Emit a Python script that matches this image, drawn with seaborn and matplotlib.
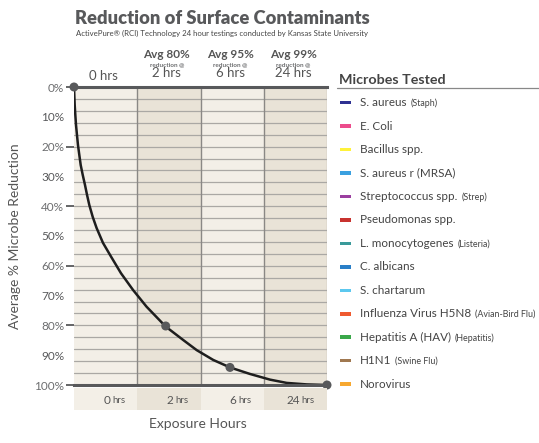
import numpy as np
import pandas as pd
import matplotlib
matplotlib.use("Agg")
import matplotlib.pyplot as plt
import seaborn as sns

# ---------------- data ----------------
columns = ["0 hrs", "2 hrs", "6 hrs", "24 hrs"]
col_numbers = ["0", "2", "6", "24"]
avg_headers = ["", "Avg 80%", "Avg 95%", "Avg 99%"]

# curve (x in column units 0..4, y in % reduction)
curve_x = [0.0, 0.005, 0.011, 0.021, 0.032, 0.047, 0.063, 0.084, 0.106,
           0.138, 0.174, 0.206, 0.242, 0.296, 0.357, 0.458, 0.585, 0.743,
           0.933, 1.146, 1.450, 1.739, 1.940, 2.202, 2.466, 2.783, 3.099,
           3.363, 3.679, 3.995]
curve_y = [0.0, 2.7, 6.0, 9.4, 12.8, 16.1, 19.5, 22.8, 26.2,
           29.5, 32.9, 36.2, 39.6, 43.6, 47.3, 52.3, 56.9, 62.5,
           68.1, 73.7, 80.4, 85.1, 88.3, 91.6, 94.1, 96.3, 98.2,
           99.3, 99.8, 100.0]

# measured points
marker_x = [0.0, 1.45, 2.466, 4.0]
marker_y = [0.0, 80.2, 94.1, 100.0]

ytick_values = [0, 10, 20, 30, 40, 50, 60, 70, 80, 90, 100]
ytick_labels = ["0%", "10%", "20%", "30%", "40%", "50%", "60%", "70%", "80%", "90%", "100%"]

microbes = ["S. aureus", "E. Coli", "Bacillus spp.", "S. aureus r (MRSA)",
            "Streptococcus spp.", "Pseudomonas spp.", "L. monocytogenes",
            "C. albicans", "S. chartarum", "Influenza Virus H5N8",
            "Hepatitis A (HAV)", "H1N1", "Norovirus"]
microbe_notes = ["(Staph)", "", "", "", "(Strep)", "", "(Listeria)", "", "",
                 "(Avian-Bird Flu)", "(Hepatitis)", "(Swine Flu)", ""]
microbe_colors = ["#2e3192", "#ec4c8c", "#fff23a", "#3aa0e0", "#9b3fa0",
                  "#c8332f", "#3a9a9a", "#2a7fc8", "#5cc8ef", "#ef5a30",
                  "#3aa84a", "#a07850", "#f7a830"]

# ---------------- style ----------------
sns.set_theme(style="white")
plt.rcParams["font.family"] = ["Lato", "DejaVu Sans"]

W, H = 539, 443
fig = plt.figure(figsize=(W / 100, H / 100), dpi=100)


def fx(px):
    return px / W


def fy(py):
    return 1 - py / H


TXT = "#555555"
LIGHT = "#f3efe7"
DARK = "#e9e3d7"
col_fill = [LIGHT, DARK, LIGHT, DARK]

ax = fig.add_axes([fx(74), fy(385), (327 - 74) / W, (385 - 87) / H])
ax.set_xlim(0, 4)
ax.set_ylim(100, 0)

for i in range(4):
    ax.axvspan(i, i + 1, color=col_fill[i], lw=0, zorder=0)
for yv in np.arange(4, 100, 4):
    ax.axhline(yv, color="#aaa8a4", lw=0.9, zorder=1)
for xv in [1, 2, 3]:
    ax.axvline(xv, color="#8a8885", lw=1.0, zorder=1)
ax.axvline(4, color="#aaa8a4", lw=0.9, zorder=1)

df_curve = pd.DataFrame({"x": curve_x, "y": curve_y})
df_pts = pd.DataFrame({"x": marker_x, "y": marker_y})
sns.lineplot(data=df_curve, x="x", y="y", ax=ax, color="#1e1e1e", lw=1.8,
             sort=False, estimator=None, zorder=3)
sns.scatterplot(data=df_pts, x="x", y="y", ax=ax, color="#58595b", s=42,
                edgecolor="none", zorder=6, clip_on=False)

for side in ["left", "right"]:
    ax.spines[side].set_visible(False)
for side in ["top", "bottom"]:
    ax.spines[side].set_color("#58595b")
    ax.spines[side].set_linewidth(2.2)
    ax.spines[side].set_zorder(5)

ax.set_yticks([v for v in ytick_values if v % 20 == 0])
ax.set_yticklabels([l for v, l in zip(ytick_values, ytick_labels) if v % 20 == 0])
ax.set_yticks([v for v in ytick_values if v % 20 != 0], minor=True)
ax.set_yticklabels([l for v, l in zip(ytick_values, ytick_labels) if v % 20 != 0], minor=True)
ax.tick_params(axis="y", which="major", length=6, width=1.3, color="#58595b",
               pad=1, labelsize=8.5, labelcolor="#6d6e70", left=True)
ax.tick_params(axis="y", which="minor", length=0, pad=7, labelsize=8.5,
               labelcolor="#58595b", left=True)
ax.set_xticks([])
ax.set_xlabel("")
ax.set_ylabel("")

# bottom band
bx = fig.add_axes([fx(74), fy(410), (327 - 74) / W, (410 - 388) / H])
bx.set_xlim(0, 4)
bx.set_ylim(0, 1)
for i in range(4):
    bx.axvspan(i, i + 1, color=col_fill[i], lw=0)
    bx.text(i + 0.5 + 0.07, 0.45, col_numbers[i], ha="right", va="center",
            fontsize=8.5, color=TXT)
    bx.text(i + 0.5 + 0.1, 0.42, "hrs", ha="left", va="center",
            fontsize=7, color=TXT)
bx.axis("off")

# top headers
for i in range(4):
    cx = fx(74 + (i + 0.5) * 63.25 - 2)
    yoff = -3 if avg_headers[i] else 0
    fig.text(cx, fy(76 + yoff), columns[i], ha="center", va="center",
             fontsize=9.5, color=TXT)
    if avg_headers[i]:
        fig.text(cx, fy(54), avg_headers[i], ha="center", va="center",
                 fontsize=8.5, fontweight="bold", color=TXT)
        fig.text(cx, fy(64.5), "reduction @", ha="center", va="center",
                 fontsize=4.6, fontweight="bold", color="#6d6e70")

# titles
fig.text(fx(222), fy(18), "Reduction of Surface Contaminants", ha="center",
         va="center", fontsize=13.2, fontweight="heavy", color="#58595b")
fig.text(fx(222), fy(33), "ActivePure® (RCI) Technology 24 hour testings conducted by Kansas State University",
         ha="center", va="center", fontsize=5.6, color="#444444")
fig.text(fx(15), fy(236), "Average % Microbe Reduction", rotation=90,
         ha="center", va="center", fontsize=10, color=TXT)
fig.text(fx(198), fy(424), "Exposure Hours", ha="center", va="center",
         fontsize=10, color=TXT)

# legend
fig.text(fx(339), fy(80.5), "Microbes Tested", ha="left", va="center",
         fontsize=10.3, fontweight="bold", color="#444444")
fig.add_artist(plt.Line2D([fx(337), fx(539)], [fy(87.5), fy(87.5)],
                          color="#888888", lw=0.9))
fig.canvas.draw()
renderer = fig.canvas.get_renderer()
for i, (name, note, c) in enumerate(zip(microbes, microbe_notes, microbe_colors)):
    yy = 102.7 + i * 23.45
    fig.add_artist(plt.Rectangle((fx(339.5), fy(yy + 1.8)), 12 / W, 3.6 / H,
                                 color=c, lw=0))
    t = fig.text(fx(360), fy(yy), name, ha="left", va="center",
                 fontsize=8.4, color="#444444")
    if note:
        r = t.get_window_extent(renderer=renderer)
        fig.text((r.x1 + 4) / W, fy(yy + 0.8), note, ha="left", va="center",
                 fontsize=6.4, color="#444444")

fig.savefig("out.png", dpi=100)
